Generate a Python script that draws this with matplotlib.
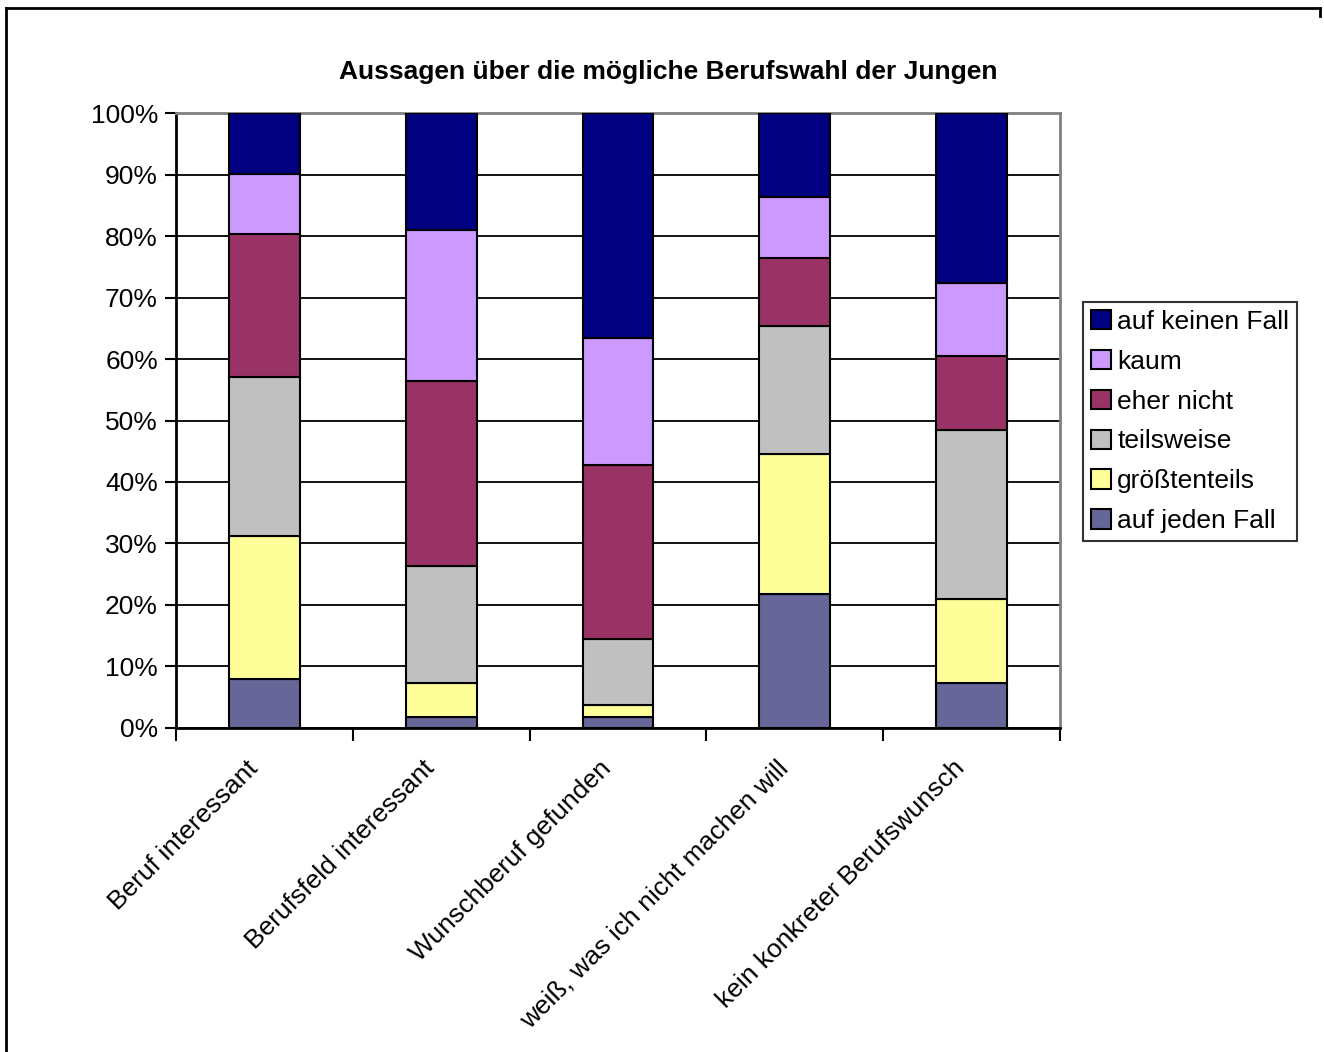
import matplotlib
matplotlib.use("Agg")
import matplotlib.pyplot as plt
import matplotlib.transforms as mtransforms
import numpy as np
from matplotlib.lines import Line2D

plt.rcParams['font.family'] = ['Liberation Sans', 'DejaVu Sans']

# Kategorien und Anteile (in %) je Antwortstufe
kategorien = ["Beruf interessant", "Berufsfeld interessant", "Wunschberuf gefunden",
              "weiß, was ich nicht machen will", "kein konkreter Berufswunsch"]
stufen = ["auf jeden Fall", "größtenteils", "teilsweise", "eher nicht", "kaum", "auf keinen Fall"]
auf_jeden_fall = [8.0, 1.8, 1.8, 21.8, 7.2]
groesstenteils = [23.2, 5.4, 1.9, 22.7, 13.8]
teilsweise = [25.9, 19.1, 10.8, 20.9, 27.4]
eher_nicht = [23.2, 30.1, 28.2, 11.0, 12.1]
kaum = [9.8, 24.6, 20.8, 10.0, 11.9]
auf_keinen_fall = [9.9, 19.0, 36.5, 13.6, 27.6]
farben = ["#666699", "#FFFF99", "#C0C0C0", "#993366", "#CC99FF", "#000080"]

werte = [auf_jeden_fall, groesstenteils, teilsweise, eher_nicht, kaum, auf_keinen_fall]

W, H = 1324, 1052
fig = plt.figure(figsize=(W / 100, H / 100), dpi=100)
ax = fig.add_axes([176 / W, 1 - 727.7 / H, 884 / W, 614.4 / H])

x = np.arange(len(kategorien))
unten = np.zeros(len(kategorien))
balken = []
for name, v, c in zip(stufen, werte, farben):
    b = ax.bar(x, v, 0.4, bottom=unten, color=c, edgecolor="black", linewidth=1.5,
               label=name, zorder=3)
    balken.append(b)
    unten += np.array(v)

ax.set_xlim(-0.5, len(kategorien) - 0.5)
ax.set_ylim(0, 100)
ax.set_yticks(np.arange(0, 101, 10))
ax.set_yticklabels([f"{t}%" for t in range(0, 101, 10)], fontsize=19)
ax.yaxis.grid(True, color="black", linewidth=1.3, zorder=0)
ax.set_axisbelow(True)

# Striche zwischen den Kategorien, Beschriftung in der Mitte
ax.set_xticks(np.arange(-0.5, len(kategorien), 1.0))
ax.set_xticklabels([])
ax.set_xticks(x, minor=True)
ax.set_xticklabels(kategorien, minor=True, rotation=45, ha="right",
                   rotation_mode="anchor", fontsize=19)
ax.tick_params(axis="x", which="minor", length=0, pad=16)
ax.tick_params(axis="x", which="major", length=9, width=1.5, direction="out")
ax.tick_params(axis="y", length=8, width=1.5, direction="out", pad=5)

versatz = mtransforms.ScaledTranslation(-19 / 100, -6 / 100, fig.dpi_scale_trans)
for lab in ax.get_xticklabels(minor=True):
    lab.set_transform(lab.get_transform() + versatz)

for s in ["left", "bottom"]:
    ax.spines[s].set_color("black")
    ax.spines[s].set_linewidth(2)
for s in ["top", "right"]:
    ax.spines[s].set_color("#808080")
    ax.spines[s].set_linewidth(2)

fig.text(668 / W, 1 - 72 / H, "Aussagen über die mögliche Berufswahl der Jungen",
         ha="center", va="center", fontsize=19, fontweight="bold")

leg = ax.legend(handles=balken[::-1], labels=stufen[::-1], loc="upper left",
                bbox_to_anchor=(1083 / W, 1 - 302 / H), bbox_transform=fig.transFigure,
                fontsize=19, frameon=True, fancybox=False, edgecolor="black",
                handlelength=0.75, handleheight=0.75, handletextpad=0.25,
                labelspacing=0.6, borderpad=0.3, borderaxespad=0)
leg.get_frame().set_linewidth(1.5)

# Rahmen um die Grafik
fig.add_artist(Line2D([6 / W, 6 / W], [0, 1 - 7.5 / H], transform=fig.transFigure,
                      color="black", linewidth=2))
fig.add_artist(Line2D([6 / W, 1320 / W], [1 - 7.5 / H, 1 - 7.5 / H], transform=fig.transFigure,
                      color="black", linewidth=2))
fig.add_artist(Line2D([1320 / W, 1320 / W], [1 - 7.5 / H, 1 - 16 / H], transform=fig.transFigure,
                      color="black", linewidth=2))

fig.savefig("out.png", dpi=100)
